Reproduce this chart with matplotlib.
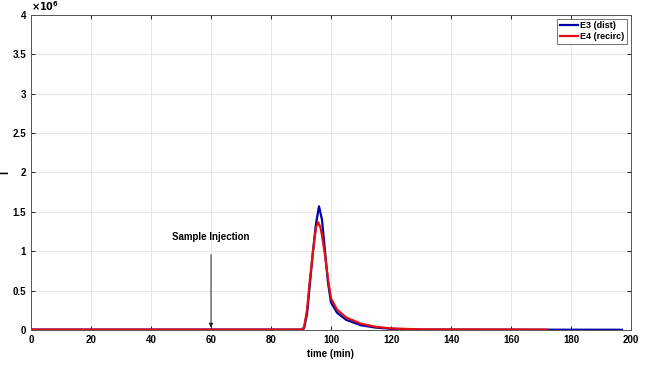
import matplotlib
matplotlib.use("Agg")
import matplotlib.pyplot as plt
from matplotlib.ticker import FuncFormatter

plt.rcParams["font.family"] = ["Liberation Sans", "DejaVu Sans"]
plt.rcParams["font.weight"] = "bold"

# E3 (dist) trace (time in min, intensity)
e3_time = [0, 90, 91, 92, 93, 94, 95, 96, 97, 98, 99, 100, 102, 105, 110, 115, 120, 130, 197]
e3_int = [5e3, 5e3, 2e4, 2.0e5, 6.0e5, 1.0e6, 1.35e6, 1.57e6, 1.40e6, 1.0e6, 6.0e5,
          3.5e5, 2.2e5, 1.3e5, 6e4, 3e4, 1.5e4, 5e3, 3e3]

# E4 (recirc) trace
e4_time = [0, 90, 91, 92, 93, 94, 95, 95.7, 96.5, 97, 98, 99, 100, 102, 105, 110, 115, 120, 130, 172]
e4_int = [5e3, 5e3, 3e4, 2.5e5, 6.5e5, 1.0e6, 1.3e6, 1.37e6, 1.30e6, 1.2e6, 9.5e5, 6.5e5,
          4.0e5, 2.6e5, 1.6e5, 8e4, 4e4, 2e4, 8e3, 5e3]

injection_time = 60
x_ticks = list(range(0, 201, 20))
y_ticks = [i * 0.5e6 for i in range(9)]

fig = plt.figure(figsize=(6.48, 3.73), dpi=100)
ax = fig.add_axes([0.0478, 0.1153, 0.926, 0.8445])

ax.plot(e3_time, e3_int, color="#0000a8", lw=1.6, label="E3 (dist)")
ax.plot(e4_time, e4_int, color="#e01010", lw=1.6, label="E4 (recirc)")

ax.annotate("Sample Injection", xy=(injection_time, 3e4), xytext=(injection_time, 1.18e6),
            ha="center", va="center", fontsize=7, fontweight="bold",
            arrowprops=dict(arrowstyle="-|>", color="#222222", lw=0.7,
                            shrinkA=7, shrinkB=0, mutation_scale=6))

ax.set_xlim(0, 200)
ax.set_ylim(0, 4e6)
ax.set_xticks(x_ticks)
ax.set_yticks(y_ticks)
ax.yaxis.set_major_formatter(FuncFormatter(lambda v, p: f"{v / 1e6:g}"))
ax.tick_params(labelsize=7, direction="in", length=3, width=0.6, top=True, right=True)
ax.grid(True, color="#e6e6e6", lw=0.7)
for s in ax.spines.values():
    s.set_color("#555555")
    s.set_linewidth(0.7)

ax.set_xlabel("time (min)", fontsize=7, fontweight="bold", labelpad=3)
ax.set_ylabel("I", fontsize=8, fontweight="bold")
ax.yaxis.set_label_coords(-0.035, 0.5)
ax.text(0.0, 1.005, r"$\times10^6$", transform=ax.transAxes, fontsize=7, ha="left", va="bottom")

leg = ax.legend(loc="upper right", fontsize=6.5, frameon=True, fancybox=False,
                handlelength=2.0, borderpad=0.3, labelspacing=0.2, handletextpad=0.3,
                borderaxespad=0.4)
leg.get_frame().set_edgecolor("#333333")
leg.get_frame().set_linewidth(0.6)

fig.savefig("out.png", dpi=100)
